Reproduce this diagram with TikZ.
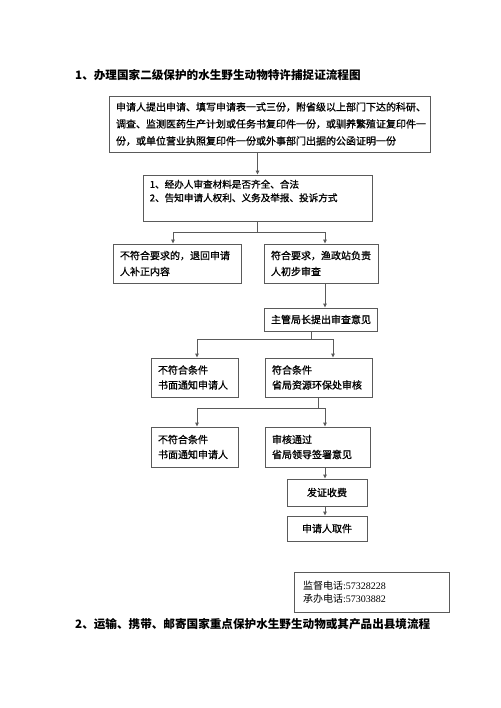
\documentclass[tikz,border=0pt]{standalone}
\usepackage{fontspec}
\setmainfont{Noto Sans CJK SC}
\newfontfamily\semibf[FakeBold=1.0]{Noto Sans CJK SC}
\newfontfamily\digfont{Liberation Serif}
\usetikzlibrary{arrows.meta}
\definecolor{linegray}{HTML}{5A5A5A}
\tikzset{
  box/.style={draw=linegray, line width=0.9pt, align=left, inner xsep=7pt, inner ysep=0pt, anchor=center},
  cbox/.style={draw=linegray, line width=0.9pt, align=center, inner sep=0pt, anchor=center},
  conn/.style={draw=linegray, line width=0.9pt},
  arr/.style={conn, -{Triangle[length=4pt,width=3.6pt]}},
  titletext/.style={anchor=west, inner sep=0pt, font=\fontsize{11.6}{14}\selectfont\bfseries},
  boxtext/.style={font=\semibf\fontsize{10}{16}\selectfont}
}
\begin{document}
\begin{tikzpicture}[x=1pt,y=-1pt]
\useasboundingbox[fill=white] (0,0) rectangle (500,708);

\node[titletext] (t1) at (75,75) {1、办理国家二级保护的水生野生动物特许捕捉证流程图};

\node[box, text width=307pt, minimum height=56pt, font=\semibf\fontsize{10}{17}\selectfont] (b1) at (269.5,124)
  {申请人提出申请、填写申请表一式三份，附省级以上部门下达的科研、\\
   调查、监测医药生产计划或任务书复印件一份，或驯养繁殖证复印件一\\
   份，或单位营业执照复印件一份或外事部门出据的公函证明一份};

\node[draw=linegray, line width=0.9pt, minimum width=229pt, minimum height=46pt, inner sep=0pt] (b2) at (257.5,198) {};
\node[anchor=north west, align=left, inner sep=0pt, font=\semibf\fontsize{9.6}{13.5}\selectfont] (b2t) at ([xshift=7pt,yshift=-5pt]b2.north west)
  {1、经办人审查材料是否齐全、合法\\2、告知申请人权利、义务及举报、投诉方式};

\node[box, boxtext, text width=114pt, minimum height=39pt] (b3a) at (177,263.5)
  {不符合要求的，退回申请\\人补正内容};
\node[box, boxtext, text width=100pt, minimum height=39pt] (b3b) at (321,263.5)
  {符合要求，渔政站负责\\人初步审查};

\node[box, boxtext, text width=99pt, minimum height=23pt] (b4) at (320.5,319.5)
  {主管局长提出审查意见};

\node[box, font=\semibf\fontsize{10}{15}\selectfont, text width=73pt, minimum height=39pt] (b5a) at (194.5,377.5)
  {不符合条件\\书面通知申请人};
\node[box, font=\semibf\fontsize{10}{15}\selectfont, text width=93pt, minimum height=39pt] (b5b) at (318.5,377.5)
  {符合条件\\省局资源环保处审核};

\node[box, font=\semibf\fontsize{10}{15}\selectfont, text width=73pt, minimum height=40pt] (b6a) at (194.5,447)
  {不符合条件\\书面通知申请人};
\node[box, font=\semibf\fontsize{10}{15}\selectfont, text width=91pt, minimum height=40pt] (b6b) at (317.5,447)
  {审核通过\\省局领导签署意见};

\node[cbox, boxtext, minimum width=80pt, minimum height=27pt] (b7) at (327,492.5) {发证收费};
\node[cbox, boxtext, minimum width=80pt, minimum height=25pt] (b8) at (327,528.5) {申请人取件};

\node[box, font=\fontsize{10}{13}\selectfont, inner xsep=9pt, text width=137pt, minimum height=40pt] (ph) at (371.5,592)
  {监督电话{\digfont:57328228}\\承办电话{\digfont:57303882}};

\node[titletext] (t2) at (75,624) {2、运输、携带、邮寄国家重点保护水生野生动物或其产品出县境流程};

% connectors
\draw[arr] (b1.south -| b2.north) -- (b2.north);

\coordinate (j1) at (257.5,232);
\draw[conn] (b2.south) -- (j1);
\draw[arr] (j1) -| ([xshift=-4pt]b3a.north);
\draw[arr] (j1) -| ([xshift=4pt]b3b.north);

\draw[arr] ([xshift=4pt]b3b.south) -- ([xshift=4.5pt]b4.north);

\coordinate (j2) at (311,339);
\draw[conn] (b4.south -| j2) -- (j2);
\draw[arr] (j2) -| ([xshift=2.5pt]b5a.north);
\draw[arr] (j2) -| ([xshift=14.5pt]b5b.north);

\coordinate (j3) at (318.5,408);
\draw[conn] (b5b.south) -- (j3);
\draw[arr] (j3) -| ([xshift=2.5pt]b6a.north);
\draw[arr] (j3) -| ([xshift=7.5pt]b6b.north);

\draw[arr] ([xshift=7.5pt]b6b.south) -- ([xshift=-2pt]b7.north);
\draw[arr] ([xshift=-2pt]b7.south) -- ([xshift=-2pt]b8.north);
\end{tikzpicture}
\end{document}
